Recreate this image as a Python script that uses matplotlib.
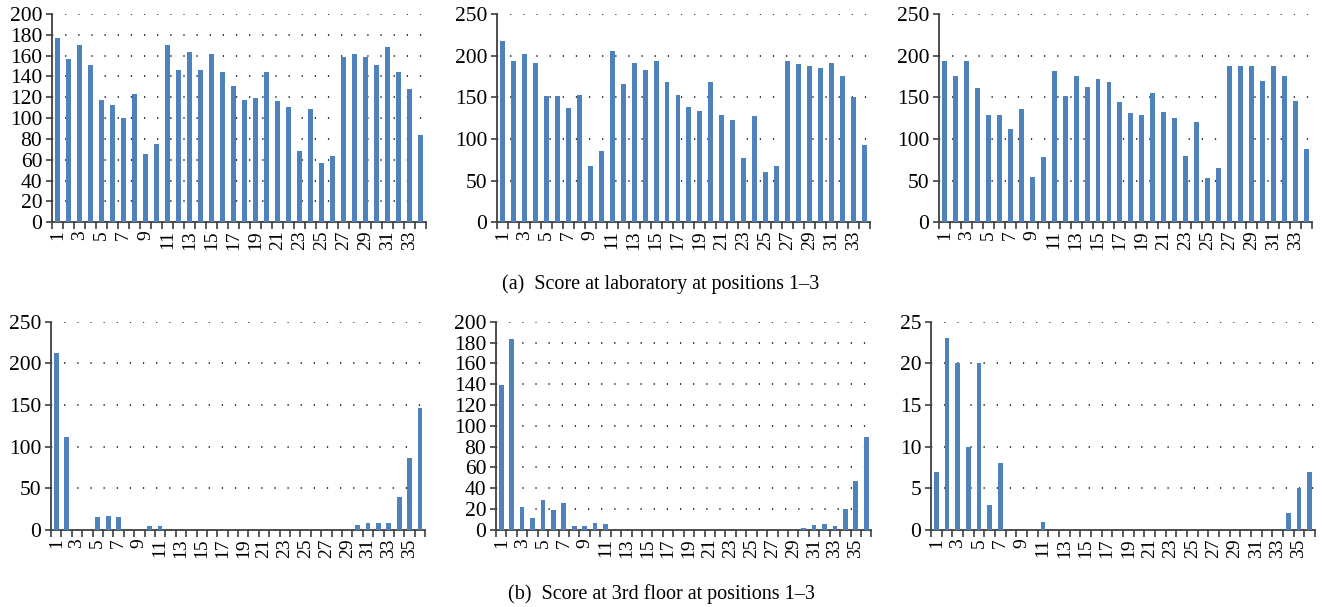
import matplotlib
matplotlib.use("Agg")
import matplotlib.pyplot as plt
import numpy as np

plt.rcParams["font.family"] = ["Liberation Serif", "DejaVu Serif"]

# scores, laboratory, positions 1-3 (34 beacons)
lab_pos1 = [177, 157, 170, 151, 117, 113, 100, 123, 65, 75, 170, 146, 163, 146, 162, 144,
            131, 117, 119, 144, 116, 111, 68, 109, 57, 64, 159, 162, 159, 151, 168, 144,
            128, 84]
lab_pos2 = [218, 193, 202, 191, 151, 151, 137, 153, 67, 85, 205, 166, 191, 183, 193, 168,
            153, 138, 134, 168, 129, 123, 77, 128, 60, 67, 193, 190, 188, 185, 191, 175,
            150, 93]
lab_pos3 = [194, 176, 194, 161, 129, 129, 112, 136, 54, 78, 182, 152, 176, 162, 172, 168,
            144, 131, 129, 155, 132, 125, 79, 120, 53, 65, 188, 188, 187, 170, 187, 175,
            146, 88]

# scores, 3rd floor, positions 1-3 (36 beacons)
floor_pos1 = [212, 112, 0, 0, 15, 17, 15, 0, 0, 5, 5, 0, 0, 0, 0, 0, 0, 0,
              0, 0, 0, 0, 0, 0, 0, 0, 0, 0, 0, 6, 8, 8, 8, 40, 86, 146]
floor_pos2 = [139, 183, 22, 11, 29, 19, 26, 4, 4, 7, 6, 0, 0, 0, 0, 0, 0, 0,
              0, 0, 0, 0, 0, 0, 0, 0, 0, 0, 0, 2, 5, 6, 4, 20, 47, 89]
floor_pos3 = [7, 23, 20, 10, 20, 3, 8, 0, 0, 0, 1, 0, 0, 0, 0, 0, 0, 0,
              0, 0, 0, 0, 0, 0, 0, 0, 0, 0, 0, 0, 0, 0, 0, 2, 5, 7]

BAR_COLOR = "#4f81bd"
AXIS_COLOR = "#404040"


def draw_panel(ax, values, ymax, ystep):
    n = len(values)
    x = np.arange(n)
    ax.bar(x, values, width=0.45, color=BAR_COLOR, zorder=3)
    ax.set_xlim(-0.5, n - 0.5)
    ax.set_ylim(0, ymax)
    ax.set_yticks(np.arange(0, ymax + ystep / 2, ystep))
    ax.set_xticks(x[::2])
    ax.set_xticklabels([str(i + 1) for i in x[::2]], rotation=90, fontsize=14)
    # category boundary ticks
    ax.set_xticks(np.arange(-0.5, n, 1.0), minor=True)
    ax.tick_params(axis="x", which="major", length=0, pad=6)
    ax.tick_params(axis="x", which="minor", length=5, width=1.2, color=AXIS_COLOR)
    ax.tick_params(axis="y", length=4, width=1.2, color=AXIS_COLOR, labelsize=15.5, pad=3)
    ax.yaxis.grid(True, color="black", linestyle=(0, (0.8, 7.8)), linewidth=1.1, zorder=0)
    for side in ("top", "right"):
        ax.spines[side].set_visible(False)
    for side in ("left", "bottom"):
        ax.spines[side].set_color(AXIS_COLOR)
        ax.spines[side].set_linewidth(1.3)


fig = plt.figure(figsize=(13.22, 6.07), dpi=100)

top_h = 0.343
panels = [
    ([0.0393, 0.634, 0.283, top_h], lab_pos1, 200, 20),
    ([0.3760, 0.634, 0.282, top_h], lab_pos2, 250, 50),
    ([0.7103, 0.634, 0.282, top_h], lab_pos3, 250, 50),
    ([0.0386, 0.127, 0.283, top_h], floor_pos1, 250, 50),
    ([0.3752, 0.127, 0.284, top_h], floor_pos2, 200, 20),
    ([0.7042, 0.127, 0.2905, top_h], floor_pos3, 25, 5),
]
for rect, vals, ymax, ystep in panels:
    ax = fig.add_axes(rect)
    draw_panel(ax, vals, ymax, ystep)

fig.text(0.5, 0.532, "(a)  Score at laboratory at positions 1\u20133",
         ha="center", va="center", fontsize=14.5)
fig.text(0.5, 0.021, "(b)  Score at 3rd floor at positions 1\u20133",
         ha="center", va="center", fontsize=14.5)

fig.savefig("out.png", dpi=100)
